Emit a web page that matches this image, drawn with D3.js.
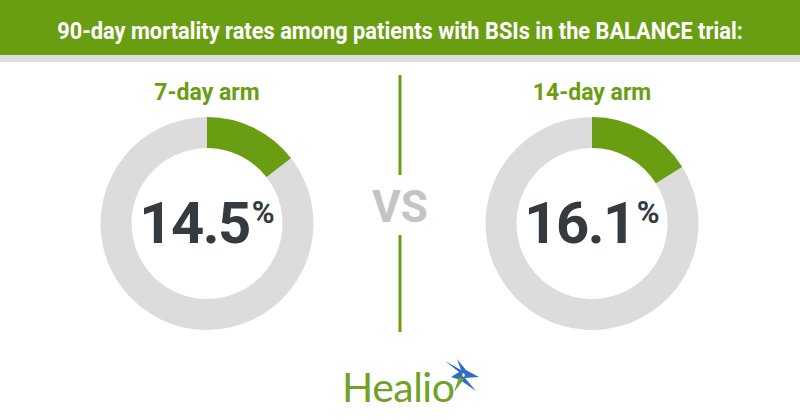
<!DOCTYPE html>
<html><head><meta charset="utf-8">
<script src="https://cdn.jsdelivr.net/npm/d3@7"></script>
<style>body{margin:0;background:#fff}svg{display:block}</style>
</head><body>
<script>
const title = "90-day mortality rates among patients with BSIs in the BALANCE trial:";
const arms = ["7-day arm", "14-day arm"];
const rates = [14.5, 16.1];
const rateLabels = ["14.5", "16.1"];

const W = 800, H = 420;
const green = "#6a9e12", gray = "#dcdcdc", dark = "#343a3e";
const svg = d3.select("body").append("svg").attr("width", W).attr("height", H);

// header
svg.append("rect").attr("x",0).attr("y",0).attr("width",W).attr("height",55).attr("fill",green);
svg.append("rect").attr("x",0).attr("y",55).attr("width",W).attr("height",7).attr("fill","#dedede");
const tg = svg.append("g");
const tt = tg.append("text").attr("x",0).attr("y",0).attr("text-anchor","middle")
  .attr("fill","#fff").attr("font-family","Roboto").attr("font-weight","bold")
  .attr("font-size",24.5).text(title);
const natW = tt.node().getComputedTextLength();
tg.attr("transform", `translate(${W/2},38.5) scale(${686/natW},1)`);

const x = d3.scalePoint().domain(arms).range([207, 592]);
const cy = 223.5, rO = 106.5, rI = 75.5;
const arc = d3.arc().innerRadius(rI).outerRadius(rO);
const pie = d3.pie().sort(null).value(d => d);

arms.forEach((a, i) => {
  const g = svg.append("g").attr("transform", `translate(${x(a)},${cy})`);
  g.selectAll("path").data(pie([rates[i], 100 - rates[i]])).join("path")
    .attr("d", arc).attr("fill", (d, j) => j === 0 ? green : gray);
  svg.append("text").attr("x", x(a)).attr("y", 100).attr("text-anchor","middle")
    .attr("fill", green).attr("font-family","Roboto").attr("font-weight","bold")
    .attr("font-size", 23).text(a);
  const t = g.append("text").attr("y", 19.5).attr("text-anchor","middle")
    .attr("font-family","Roboto").attr("font-weight","bold").attr("fill", dark);
  t.append("tspan").attr("font-size", 58).attr("letter-spacing", -1.5).text(rateLabels[i]);
  t.append("tspan").attr("font-size", 31).attr("dy", -20).attr("dx", 2).text("%");
});

// divider
svg.append("line").attr("x1",400).attr("x2",400).attr("y1",75).attr("y2",175)
  .attr("stroke",green).attr("stroke-width",3);
svg.append("line").attr("x1",400).attr("x2",400).attr("y1",235).attr("y2",332)
  .attr("stroke",green).attr("stroke-width",3);
svg.append("text").attr("x",400).attr("y",222).attr("text-anchor","middle")
  .attr("fill","#c4c4c4").attr("font-family","Roboto").attr("font-weight","bold")
  .attr("font-size",44).text("VS");

// logo
svg.append("text").attr("x",342).attr("y",402).attr("fill","#6fa227")
  .attr("font-family","Lato").attr("font-size",41).attr("letter-spacing",-0.5).text("Healio");
const sx = 463, sy = 376;
svg.append("path").attr("fill","#2f6fc0")
  .attr("d", `M${sx-18},${sy-15} L${sx-2},${sy-6} L${sx-6},${sy-17} L${sx+3},${sy-6} L${sx+16},${sy+1} L${sx+2},${sy+2} L${sx+13},${sy+15} L${sx-3},${sy+4} L${sx-12},${sy+1} L${sx-4},${sy-4} Z`);
svg.append("path").attr("fill","#6fa227")
  .attr("d", `M${sx-4},${sy+1} L${sx+1},${sy+3} L${sx-9},${sy+16} Z`);
svg.append("path").attr("fill","#fff")
  .attr("d", `M${sx-1},${sy-2} L${sx+1},${sy-3} L${sx+2},${sy} L${sx},${sy+1} Z`);
</script>
</body></html>
